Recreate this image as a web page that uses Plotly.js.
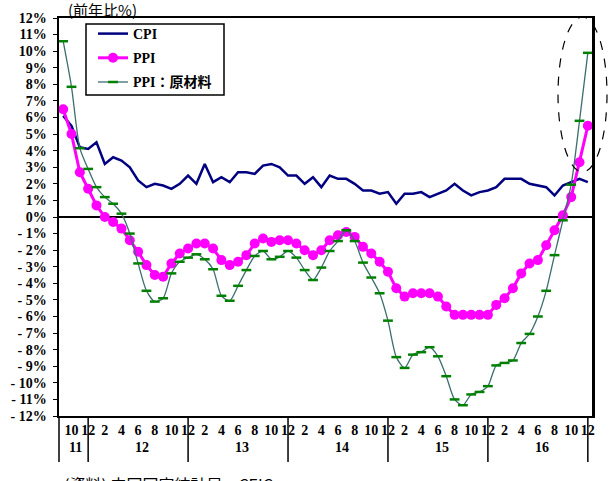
<!DOCTYPE html>
<html>
<head>
<meta charset="utf-8">
<script src="https://cdn.plot.ly/plotly-3.0.1.min.js"></script>
<style>
  html, body { margin: 0; padding: 0; background: #fff; overflow: hidden; }
  #chart { width: 610px; height: 481px; }
</style>
</head>
<body>
<div id="chart"></div>
<script>
// Monthly periods, Sep 2011 - Dec 2016
const periods = [
  "2011-09","2011-10","2011-11","2011-12",
  "2012-01","2012-02","2012-03","2012-04","2012-05","2012-06","2012-07","2012-08","2012-09","2012-10","2012-11","2012-12",
  "2013-01","2013-02","2013-03","2013-04","2013-05","2013-06","2013-07","2013-08","2013-09","2013-10","2013-11","2013-12",
  "2014-01","2014-02","2014-03","2014-04","2014-05","2014-06","2014-07","2014-08","2014-09","2014-10","2014-11","2014-12",
  "2015-01","2015-02","2015-03","2015-04","2015-05","2015-06","2015-07","2015-08","2015-09","2015-10","2015-11","2015-12",
  "2016-01","2016-02","2016-03","2016-04","2016-05","2016-06","2016-07","2016-08","2016-09","2016-10","2016-11","2016-12"
];

// Consumer price index, % y/y
const cpi = [
  6.1, 5.5, 4.2, 4.1,
  4.5, 3.2, 3.6, 3.4, 3.0, 2.2, 1.8, 2.0, 1.9, 1.7, 2.0, 2.5,
  2.0, 3.2, 2.1, 2.4, 2.1, 2.7, 2.7, 2.6, 3.1, 3.2, 3.0, 2.5,
  2.5, 2.0, 2.4, 1.8, 2.5, 2.3, 2.3, 2.0, 1.6, 1.6, 1.4, 1.5,
  0.8, 1.4, 1.4, 1.5, 1.2, 1.4, 1.6, 2.0, 1.6, 1.3, 1.5, 1.6,
  1.8, 2.3, 2.3, 2.3, 2.0, 1.9, 1.8, 1.3, 1.9, 2.1, 2.3, 2.1
];

// Producer price index, % y/y
const ppi = [
  6.5, 5.0, 2.7, 1.7,
  0.7, 0.0, -0.3, -0.7, -1.4, -2.1, -2.9, -3.5, -3.6, -2.8, -2.2, -1.9,
  -1.6, -1.6, -1.9, -2.6, -2.9, -2.7, -2.3, -1.6, -1.3, -1.5, -1.4, -1.4,
  -1.6, -2.0, -2.3, -2.0, -1.4, -1.1, -0.9, -1.2, -1.8, -2.2, -2.7, -3.3,
  -4.3, -4.8, -4.6, -4.6, -4.6, -4.8, -5.4, -5.9, -5.9, -5.9, -5.9, -5.9,
  -5.3, -4.9, -4.3, -3.4, -2.8, -2.6, -1.7, -0.8, 0.1, 1.2, 3.3, 5.5
];

// Producer prices of raw materials, % y/y
const ppiRaw = [
  10.6, 7.85, 4.15, 2.9,
  1.8, 1.2, 0.8, 0.2, -1.0, -2.8, -4.45, -5.1, -4.9, -3.4, -2.7, -2.45,
  -2.25, -2.55, -3.15, -4.75, -5.05, -4.15, -3.2, -2.35, -2.05, -2.55, -2.4, -2.05,
  -2.45, -3.2, -3.8, -3.05, -2.05, -1.45, -0.8, -1.45, -2.75, -3.65, -4.6, -6.25,
  -8.45, -9.1, -8.3, -8.15, -7.85, -8.4, -9.6, -11.0, -11.35, -10.7, -10.55, -10.2,
  -8.95, -8.8, -8.65, -7.6, -7.05, -6.0, -4.45, -2.3, -0.2, 1.95, 5.8, 9.9
];

// Axis labels
const yTicks = [12,11,10,9,8,7,6,5,4,3,2,1,0,-1,-2,-3,-4,-5,-6,-7,-8,-9,-10,-11,-12];
const years = ["2011","2012","2013","2014","2015","2016"];
const yearLabels = ["11","12","13","14","15","16"];

const serif = "Liberation Serif, Times New Roman, Noto Sans CJK JP, serif";
const cjk = "Noto Sans CJK JP, Liberation Serif, sans-serif";

// plot-area geometry in pixels (used to place decorations in paper units)
const PL = 59, PR = 592, PT = 18, PB = 416;
const px = x => (x - PL) / (PR - PL);
const py = y => (PB - y) / (PB - PT);

// even months get a tick label (month number)
const monthTickVals = periods.filter(p => parseInt(p.slice(5), 10) % 2 === 0);
const monthTickText = monthTickVals.map(p => String(parseInt(p.slice(5), 10)));

const yTickText = yTicks.map(v => v < 0 ? "- " + Math.abs(v) + "%" : v + "%");

const nCat = periods.length;
const toPaper = idx => (idx + 0.5) / nCat;

// year label centres and year separators on the category axis
const annotations = [];
const shapes = [];
const sepBottom = py(462);
shapes.push({type: "line", xref: "paper", yref: "paper", x0: 0, x1: 0, y0: 0, y1: sepBottom,
             line: {color: "#000", width: 1.5}});
years.forEach((yr, k) => {
  const idx = periods.map((p, i) => p.startsWith(yr) ? i : -1).filter(i => i >= 0);
  const first = idx[0], last = idx[idx.length - 1];
  annotations.push({
    x: (first + last) / 2, xref: "x", y: py(447), yref: "paper",
    text: yearLabels[k], showarrow: false, yanchor: "middle",
    font: {family: serif, size: 14, color: "#000", weight: "bold"}
  });
  const bx = toPaper(last);
  shapes.push({type: "line", xref: "paper", yref: "paper", x0: bx, x1: bx, y0: 0, y1: sepBottom,
               line: {color: "#000", width: 1.5}});
});

// unit caption and source note
annotations.push({
  x: px(66), xref: "paper", y: py(10), yref: "paper", text: "(前年比%)", showarrow: false,
  font: {family: cjk, size: 15, color: "#000"}, xanchor: "left", yanchor: "middle"
});
annotations.push({
  x: px(62), xref: "paper", y: py(484), yref: "paper",
  text: "(資料) 中国国家統計局、CEIC", showarrow: false,
  font: {family: cjk, size: 16, color: "#000"}, xanchor: "left", yanchor: "middle"
});

// legend frame
shapes.push({
  type: "rect", xref: "paper", yref: "paper", layer: "above",
  x0: px(86), x1: px(224), y0: py(95), y1: py(24),
  fillcolor: "#fff", line: {color: "#000", width: 1.5}
});

// dashed ellipse highlighting the latest rebound
shapes.push({
  type: "circle", xref: "paper", yref: "paper",
  x0: px(558), x1: px(607), y0: py(172), y1: py(17),
  line: {color: "#000", width: 1.2, dash: "dash"}
});

const traces = [
  {
    x: periods, y: cpi, name: "CPI", type: "scatter", mode: "lines", legendgroup: "g1",
    line: {color: "#000080", width: 2.5}
  },
  {
    x: periods, y: ppi, name: "PPI", type: "scatter", mode: "lines+markers", legendgroup: "g2",
    line: {color: "#FF00FF", width: 3},
    marker: {symbol: "circle", size: 10, color: "#FF00FF"}
  },
  {
    x: periods, y: ppiRaw, name: "PPI：原材料", type: "scatter", mode: "lines+markers", legendgroup: "g3",
    line: {color: "#3B6E6E", width: 1.3, shape: "spline", smoothing: 0.7},
    marker: {symbol: "line-ew", size: 7, color: "#008000", line: {color: "#008000", width: 2.5}}
  }
];

const layout = {
  width: 610, height: 481,
  margin: {l: PL, r: 610 - PR, t: PT, b: 481 - PB},
  paper_bgcolor: "#fff", plot_bgcolor: "#fff",
  showlegend: true,
  legend: {
    x: px(93), y: py(18), xanchor: "left", yanchor: "top",
    bgcolor: "rgba(0,0,0,0)", borderwidth: 0,
    font: {family: serif, size: 14, color: "#000", weight: "bold"},
    itemwidth: 30, tracegroupgap: 3
  },
  xaxis: {
    type: "category", range: [-0.5, nCat - 0.5],
    tickmode: "array", tickvals: monthTickVals, ticktext: monthTickText,
    ticks: "", showgrid: false, zeroline: false,
    showline: true, linecolor: "#000", linewidth: 2, mirror: true,
    tickfont: {family: serif, size: 14, color: "#000", weight: "bold"}, tickangle: 0,
    ticklabelstandoff: 0
  },
  yaxis: {
    range: [-12, 12], tickmode: "array", tickvals: yTicks, ticktext: yTickText,
    ticks: "outside", ticklen: 4, tickwidth: 1, tickcolor: "#000",
    showgrid: false, zeroline: true, zerolinecolor: "#000", zerolinewidth: 2,
    showline: true, linecolor: "#000", linewidth: 2.5, mirror: true,
    tickfont: {family: serif, size: 14, color: "#000", weight: "bold"},
    ticklabelstandoff: 3
  },
  annotations: annotations,
  shapes: shapes,
  hovermode: false
};

Plotly.newPlot("chart", traces, layout, {staticPlot: true, displayModeBar: false});
</script>
</body>
</html>
